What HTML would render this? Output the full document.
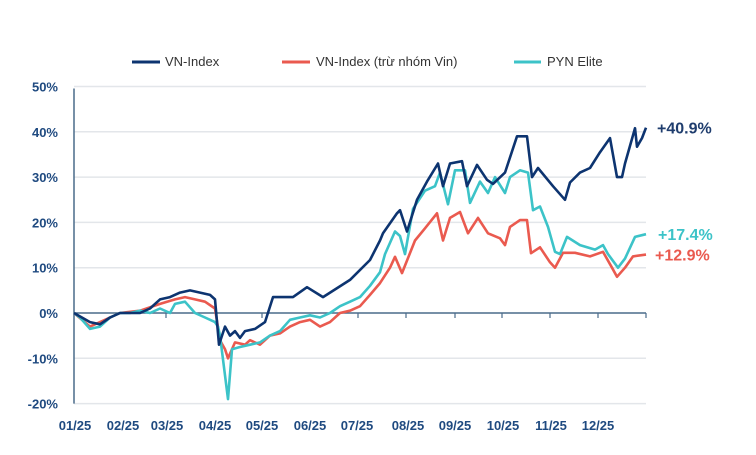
<!DOCTYPE html>
<html><head><meta charset="utf-8"><style>
html,body{margin:0;padding:0;background:#fff;width:756px;height:455px;overflow:hidden}
svg{display:block;font-family:"Liberation Sans",sans-serif}
</style></head><body>
<svg id="chart" width="756" height="455" viewBox="0 0 756 455" xmlns="http://www.w3.org/2000/svg">
<g id="legend">
 <g><line x1="132" y1="62" x2="160" y2="62" stroke="#0d3470" stroke-width="3"/><text x="165" y="66" font-size="13" fill="#333">VN-Index</text></g>
 <g><line x1="282" y1="62" x2="310" y2="62" stroke="#ea5a4f" stroke-width="3"/><text x="316" y="66" font-size="13" fill="#333">VN-Index (trừ nhóm Vin)</text></g>
 <g><line x1="514" y1="62" x2="541" y2="62" stroke="#3cc3c8" stroke-width="3"/><text x="547" y="66" font-size="13" fill="#333">PYN Elite</text></g>
</g>
<g id="grid"></g>
<g id="yaxis"></g>
<g id="xaxis"></g>
<g id="series"></g>
<g id="endlabels"></g>
</svg>
<script>
const yTicks=[50,40,30,20,10,0,-10,-20];
const monthLabels=["01/25","02/25","03/25","04/25","05/25","06/25","07/25","08/25","09/25","10/25","11/25","12/25"];
const monthLabelDays=[1,49,93,141,188,236,283,334,381,429,477,524];
const monthTickDays=[92,188,284,332,381,428,476,524,572];
const vnDays=[0,16,26,36,46,56,66,76,86,96,106,116,126,136,141,145,151,156,161,166,171,181,191,199,219,233,249,276,296,306,309,323,326,333,343,353,364,369,376,388,393,403,413,419,431,443,453,458,464,479,491,496,506,516,526,536,543,548,551,561,563,568,572];
const vnVals=[0,-2,-2.5,-1,0,0,0,1,3,3.5,4.5,5,4.5,4,3,-7,-3,-5,-4,-5.5,-4,-3.5,-2,3.5,3.5,5.7,3.5,7.3,11.7,16,17.6,22,22.7,18,25,29,33,28,33,33.5,28,32.7,29.4,28.5,31,39,39,30,32,28,25,28.8,31,32,35.5,38.6,30,30,33,40.8,36.7,38.6,40.9];
const redDays=[0,16,26,36,46,66,86,101,111,121,131,141,146,151,154,161,171,176,186,196,206,216,226,236,246,256,266,276,286,296,306,316,321,328,341,351,363,369,376,386,394,404,414,426,431,436,446,453,457,466,476,481,489,501,516,529,538,543,551,559,572];
const redVals=[0,-3,-2,-1,0,0.5,2,3,3.5,3,2.5,1,-6,-8,-10,-6.5,-7,-6,-7,-5,-4.5,-3,-2,-1.5,-3,-2,0,0.5,1.5,4,6.6,10,12.4,8.8,16,18.7,22,16,21,22.3,17.6,21,17.6,16.5,15,19,20.5,20.5,13.2,14.5,11.2,10,13.3,13.3,12.5,13.5,10,8,10,12.5,12.9];
const tealDays=[0,6,16,26,36,46,56,66,76,86,96,101,111,121,131,141,144,146,154,158,166,176,186,196,206,216,226,236,246,256,266,276,286,296,306,311,321,326,331,339,351,361,366,374,381,391,396,406,414,421,431,436,446,454,459,466,474,481,486,493,506,521,529,534,544,551,561,572];
const tealVals=[0,-1,-3.5,-3,-1,0,0,0.5,0,1,0,2,2.5,0,-1,-2,-3,-5,-19,-8,-7.5,-7,-6.5,-5,-4,-1.5,-1,-0.5,-1,0,1.5,2.5,3.5,6,9,13,18,17,13,23,27,28,31,24,31.5,31.5,24.3,29,26.5,30,26.5,30,31.5,31,22.7,23.5,19,13.5,13,16.8,15,14,15,13,10,12,16.8,17.4];
const endLabels=["+40.9%","+17.4%","+12.9%"];
const endValues=[40.9,17.4,12.9];

const NS="http://www.w3.org/2000/svg";
const X0=74,X1=646,Y0=313,PX=4.53;
const xs=d=>X0+d*(X1-X0)/572;
const ys=v=>Y0-v*PX;
function mk(tag,attrs,parent,txt){const e=document.createElementNS(NS,tag);for(const k in attrs)e.setAttribute(k,attrs[k]);if(txt!==undefined)e.textContent=txt;parent.appendChild(e);return e;}
const grid=document.getElementById('grid'),ya=document.getElementById('yaxis'),xa=document.getElementById('xaxis'),ser=document.getElementById('series'),el=document.getElementById('endlabels');
yTicks.forEach(v=>{
 if(v!==0){const g=mk('line',{x1:X0,x2:X1,y1:ys(v),y2:ys(v),stroke:'#e3e6ea','stroke-width':1.5},grid);
 
 }
 const t=mk('text',{x:58,y:ys(v)+5,'text-anchor':'end','font-size':13,'font-weight':'bold',fill:'#1f4a80'},ya,v+'%');
 
 
});
const yl=mk('line',{x1:X0,x2:X0,y1:ys(50)+2,y2:ys(-20),stroke:'#4a6b8a','stroke-width':1.5},ya);


const zl=mk('line',{x1:X0,x2:X1,y1:Y0,y2:Y0,stroke:'#4a6b8a','stroke-width':1.5},xa);


monthTickDays.forEach(d=>{const t=mk('line',{x1:xs(d),x2:xs(d),y1:Y0,y2:Y0+5,stroke:'#4a6b8a','stroke-width':1.2},xa);
 
 });
monthLabels.forEach((m,i)=>{const t=mk('text',{x:xs(monthLabelDays[i]),y:430,'text-anchor':'middle','font-size':13,'font-weight':'bold',fill:'#1f4a80'},xa,m);
 
 });
function line(days,vals,color,name){
 const n=Math.min(days.length,vals.length);
 let d='';for(let i=0;i<n;i++)d+=(i?'L':'M')+xs(days[i]).toFixed(1)+','+ys(vals[i]).toFixed(1);
 const p=mk('path',{d:d,fill:'none',stroke:color,'stroke-width':2.6,'stroke-linejoin':'round'},ser);
 
 
}
line(redDays,redVals,'#ea5a4f','line-vn-index-ex-vin');
line(tealDays,tealVals,'#3cc3c8','line-pyn-elite');
line(vnDays,vnVals,'#0d3470','line-vn-index');
const elColors=['#1f3d6e','#3cc3c8','#ea5a4f'];
const elX=[657,658,655];
endLabels.forEach((s,i)=>{const t=mk('text',{x:elX[i],y:ys(endValues[i])+6,'font-size':16,'font-weight':'bold',fill:elColors[i]},el,s);
 
 });
</script>
</body></html>
